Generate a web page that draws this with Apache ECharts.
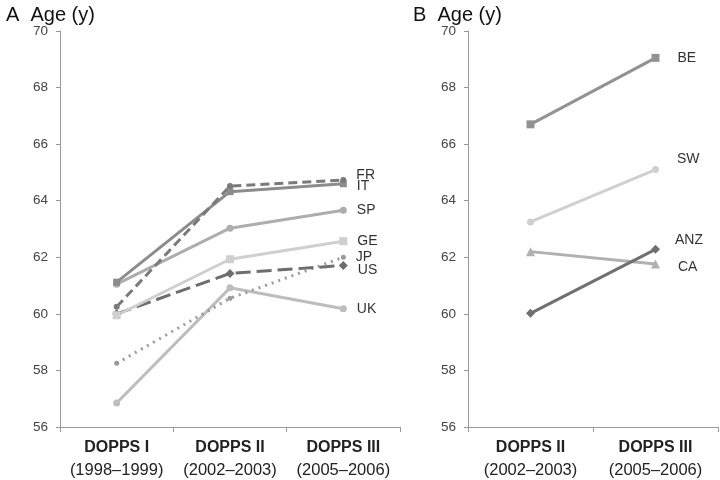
<!DOCTYPE html>
<html>
<head>
<meta charset="utf-8">
<script src="https://cdn.jsdelivr.net/npm/echarts@6/dist/echarts.min.js"></script>
<style>html,body{margin:0;padding:0;background:#fff}#c{width:720px;height:480px}</style>
</head>
<body>
<div id="c"></div>
<script>
// Categories
var catsA = ['DOPPS I|(1998\u20131999)', 'DOPPS II|(2002\u20132003)', 'DOPPS III|(2005\u20132006)'];
var catsB = ['DOPPS II|(2002\u20132003)', 'DOPPS III|(2005\u20132006)'];
var yTicks = [56, 58, 60, 62, 64, 66, 68, 70];

// Panel A series values
var FR = [60.25, 64.52, 64.73];
var IT = [61.12, 64.32, 64.60];
var SP = [61.05, 63.03, 63.66];
var GE = [59.95, 61.93, 62.57];
var JP = [58.25, 60.55, 62.00];
var US = [60.00, 61.43, 61.71];
var UK = [56.85, 60.92, 60.18];

// Panel B series values
var BE = [66.70, 69.05];
var SW = [63.25, 65.10];
var CA = [62.20, 61.76];
var ANZ = [60.02, 62.28];

var styles = {
  FR:  {color:'#7a7a7a', type:[9,5], sym:'circle', size:6, lo:[0,-5]},
  IT:  {color:'#8c8c8c', type:'solid', sym:'rect', size:7, lo:[0,2]},
  SP:  {color:'#adadad', type:'solid', sym:'circle', size:7, lo:[0,0]},
  GE:  {color:'#cfcfcf', type:'solid', sym:'rect', size:8, lo:[0,0]},
  JP:  {color:'#9a9a9a', type:[2,5], sym:'circle', size:5, lo:[0,0]},
  US:  {color:'#6e6e6e', type:[15,6], sym:'diamond', size:9, lo:[0,5]},
  UK:  {color:'#bdbdbd', type:'solid', sym:'circle', size:7, lo:[0,0]},
  BE:  {color:'#929292', type:'solid', sym:'rect', size:8, lo:[8,0]},
  SW:  {color:'#d0d0d0', type:'solid', sym:'circle', size:7, lo:[8,-10]},
  CA:  {color:'#b0b0b0', type:'solid', sym:'triangle', size:9, lo:[8,3]},
  ANZ: {color:'#707070', type:'solid', sym:'diamond', size:9, lo:[5,-9]}
};

function mk(name, vals, idx) {
  var s = styles[name];
  var data = vals.map(function (v, i) {
    if (i === vals.length - 1) {
      return {value: v, label: {show: true, formatter: name, position: 'right', distance: 10,
        offset: s.lo, color: '#333', fontSize: 14, fontFamily: 'Liberation Sans'}};
    }
    return v;
  });
  return {
    name: name, type: 'line', xAxisIndex: idx, yAxisIndex: idx, data: data,
    symbol: s.sym, symbolSize: s.size,
    lineStyle: {color: s.color, width: 3, type: s.type},
    itemStyle: {color: s.color},
    animation: false, z: 2
  };
}

var xLabel = {
  interval: 0, margin: 10, color: '#222',
  formatter: function (v) { var p = v.split('|'); return '{a|' + p[0] + '}\n{b|' + p[1] + '}'; },
  rich: {
    a: {fontSize: 16, fontWeight: 'bold', fontFamily: 'Liberation Sans', color: '#222', lineHeight: 22},
    b: {fontSize: 16.5, fontFamily: 'Liberation Sans', color: '#222', lineHeight: 22}
  }
};
function xAxis(cats, gi) {
  return {type: 'category', gridIndex: gi, data: cats, boundaryGap: true,
    axisLine: {lineStyle: {color: '#999', width: 1}},
    axisTick: {show: true, length: 5, lineStyle: {color: '#999'}},
    axisLabel: xLabel, splitLine: {show: false}};
}
function yAxis(gi) {
  return {type: 'value', gridIndex: gi, min: yTicks[0], max: yTicks[yTicks.length - 1], interval: 2,
    axisLine: {show: true, lineStyle: {color: '#999', width: 1}},
    axisTick: {show: true, length: 4, lineStyle: {color: '#999'}},
    axisLabel: {color: '#444', fontSize: 13.5, fontFamily: 'Liberation Sans', margin: 12},
    splitLine: {show: false}};
}

var chart = echarts.init(document.getElementById('c'), null, {renderer: 'canvas'});
chart.setOption({
  backgroundColor: '#fff',
  animation: false,
  title: [
    {text: 'A  Age (y)', left: 1, top: 0, textStyle: {fontSize: 20, fontWeight: 'normal', color: '#111', fontFamily: 'Liberation Sans'}},
    {text: 'B  Age (y)', left: 408, top: 0, textStyle: {fontSize: 20, fontWeight: 'normal', color: '#111', fontFamily: 'Liberation Sans'}}
  ],
  grid: [
    {left: 60, top: 31, width: 340, height: 396},
    {left: 468, top: 31, width: 250, height: 396}
  ],
  xAxis: [xAxis(catsA, 0), xAxis(catsB, 1)],
  yAxis: [yAxis(0), yAxis(1)],
  series: [
    mk('UK', UK, 0), mk('JP', JP, 0), mk('US', US, 0), mk('GE', GE, 0),
    mk('SP', SP, 0), mk('IT', IT, 0), mk('FR', FR, 0),
    mk('SW', SW, 1), mk('CA', CA, 1), mk('ANZ', ANZ, 1), mk('BE', BE, 1)
  ]
});
</script>
</body>
</html>
